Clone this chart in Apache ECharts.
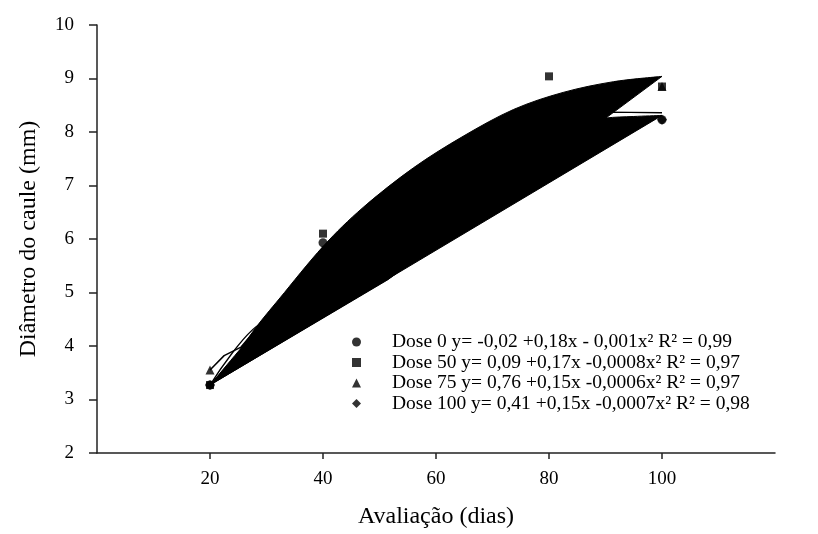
<!DOCTYPE html>
<html>
<head>
<meta charset="utf-8">
<script src="https://cdn.jsdelivr.net/npm/echarts@6/dist/echarts.min.js"></script>
<style>
html, body { margin: 0; padding: 0; background: #fff; }
#chart { width: 818px; height: 534px; }
</style>
</head>
<body>
<div id="chart"></div>
<script>
// avaliacoes (dias)
var dias = [20, 40, 80, 100];

// diametro medio observado (mm)
var dose0 = [3.27, 5.93, 8.0, 8.23];
var dose50 = [3.27, 6.10, 9.04, 8.85];
var dose75 = [3.55, 5.80, 8.30, 8.85];
var dose100 = [3.27, 5.70, 7.90, 8.23];

var nomes = [
    'Dose 0 y= -0,02 +0,18x - 0,001x² R² = 0,99',
    'Dose 50 y= 0,09 +0,17x -0,0008x² R² = 0,97',
    'Dose 75 y= 0,76 +0,15x -0,0006x² R² = 0,97',
    'Dose 100 y= 0,41 +0,15x -0,0007x² R² = 0,98'
];

// linhas de tendencia (preenchidas no original)
var trend50 = [[20, 3.27], [22, 3.5], [24, 3.72], [25.5, 3.95], [28.3, 4.37], [32.4, 4.9], [40, 5.86],
    [47.1, 6.59], [56, 7.33], [64.8, 7.92], [73.7, 8.42], [82.5, 8.74], [91.4, 8.94], [100, 9.04]];
var trend50Volta = [[51.5, 5.24], [20, 3.27]];
var trend100 = [[20, 3.27], [30, 4.5], [40, 5.55], [50, 6.42], [60, 7.12], [70, 7.67], [80, 8.03],
    [85, 8.15], [90, 8.26], [95, 8.29], [100, 8.31]];
var trend0 = [[20, 3.27], [30, 4.45], [40, 5.6], [50, 6.5], [60, 7.2], [70, 7.7], [80, 8.1], [90, 8.37], [100, 8.36]];
var trend75 = [[20, 3.55], [22.5, 3.82], [25.5, 3.98], [28.3, 4.33], [40, 5.83], [60, 7.5], [80, 8.55], [96, 8.9]];

var fonte = "'Liberation Serif', 'Times New Roman', serif";

function pares(ys) {
    var out = [];
    for (var i = 0; i < dias.length; i++) {
        out.push([dias[i], ys[i]]);
    }
    return out;
}

// curva suave (catmull-rom) + volta em linha reta
function preenche(curva, volta) {
    return function (params, api) {
        var p = curva.map(function (v) { return api.coord(v); });
        var n = p.length;
        var d = 'M' + p[0][0] + ',' + p[0][1];
        for (var i = 0; i < n - 1; i++) {
            var p0 = p[Math.max(i - 1, 0)], p1 = p[i], p2 = p[i + 1], p3 = p[Math.min(i + 2, n - 1)];
            var c1x = p1[0] + (p2[0] - p0[0]) / 6, c1y = p1[1] + (p2[1] - p0[1]) / 6;
            var c2x = p2[0] - (p3[0] - p1[0]) / 6, c2y = p2[1] - (p3[1] - p1[1]) / 6;
            d += ' C' + c1x + ',' + c1y + ' ' + c2x + ',' + c2y + ' ' + p2[0] + ',' + p2[1];
        }
        (volta || []).forEach(function (v) {
            var q = api.coord(v);
            d += ' L' + q[0] + ',' + q[1];
        });
        d += ' Z';
        return {
            type: 'path',
            shape: { pathData: d },
            style: { fill: '#000', stroke: '#000', lineWidth: 1 }
        };
    };
}

var myChart = echarts.init(document.getElementById('chart'));

var option = {
    backgroundColor: '#fff',
    animation: false,
    textStyle: { fontFamily: fonte, color: '#000' },
    grid: {
        left: 97,
        right: 43,
        top: 25,
        bottom: 80
    },
    legend: {
        orient: 'vertical',
        left: 347,
        top: 327,
        itemWidth: 9,
        itemHeight: 9,
        itemGap: 0.5,
        selectedMode: false,
        data: nomes,
        formatter: function (name) {
            return '{g|}{t|' + name + '}';
        },
        textStyle: {
            rich: {
                g: { width: 26 },
                t: { fontSize: 19.5, fontFamily: fonte, color: '#000', lineHeight: 20 }
            }
        }
    },
    xAxis: {
        type: 'value',
        min: 0,
        max: 120,
        interval: 20,
        name: 'Avaliação (dias)',
        nameLocation: 'middle',
        nameGap: 52,
        nameTextStyle: { fontSize: 24, fontFamily: fonte, color: '#000' },
        axisLine: { onZero: false, lineStyle: { color: '#222', width: 1.5 } },
        axisTick: { customValues: [20, 40, 60, 80, 100], length: 6, lineStyle: { color: '#222', width: 1.5 } },
        axisLabel: {
            customValues: [20, 40, 60, 80, 100],
            margin: 17,
            fontSize: 19,
            fontFamily: fonte,
            color: '#000'
        },
        splitLine: { show: false }
    },
    yAxis: {
        type: 'value',
        min: 2,
        max: 10,
        interval: 1,
        name: 'Diâmetro do caule (mm)',
        nameLocation: 'middle',
        nameGap: 56,
        nameTextStyle: { fontSize: 24, fontFamily: fonte, color: '#000' },
        axisLine: { show: true, onZero: false, lineStyle: { color: '#222', width: 1.5 } },
        axisTick: { show: true, length: 8, lineStyle: { color: '#222', width: 1.5 } },
        axisLabel: { margin: 23, fontSize: 19, fontFamily: fonte, color: '#000' },
        splitLine: { show: false }
    },
    series: [
        {
            type: 'custom',
            silent: true,
            z: 1,
            renderItem: preenche(trend100),
            data: [trend100[0]]
        },
        {
            type: 'custom',
            silent: true,
            z: 1,
            renderItem: preenche(trend50, trend50Volta),
            data: [trend50[0]]
        },
        {
            type: 'line',
            silent: true,
            z: 2,
            smooth: 0.3,
            smoothMonotone: 'x',
            symbol: 'none',
            data: trend0,
            lineStyle: { color: '#000', width: 1.3 }
        },
        {
            type: 'line',
            silent: true,
            z: 2,
            smooth: false,
            symbol: 'none',
            data: trend75,
            lineStyle: { color: '#000', width: 1.5 }
        },
        {
            name: nomes[2],
            type: 'scatter',
            z: 3,
            symbol: 'triangle',
            symbolSize: 9,
            itemStyle: { color: '#000' },
            data: pares(dose75)
        },
        {
            name: nomes[3],
            type: 'scatter',
            z: 3,
            symbol: 'diamond',
            symbolSize: 10,
            itemStyle: { color: '#000' },
            data: pares(dose100)
        },
        {
            name: nomes[0],
            type: 'scatter',
            z: 4,
            symbol: 'circle',
            symbolSize: 9,
            itemStyle: { color: '#000' },
            data: pares(dose0)
        },
        {
            name: nomes[1],
            type: 'scatter',
            z: 4,
            symbol: 'rect',
            symbolSize: 8,
            itemStyle: { color: '#000' },
            data: pares(dose50)
        }
    ]
};

myChart.setOption(option);
window.onresize = myChart.resize;
</script>
</body>
</html>
